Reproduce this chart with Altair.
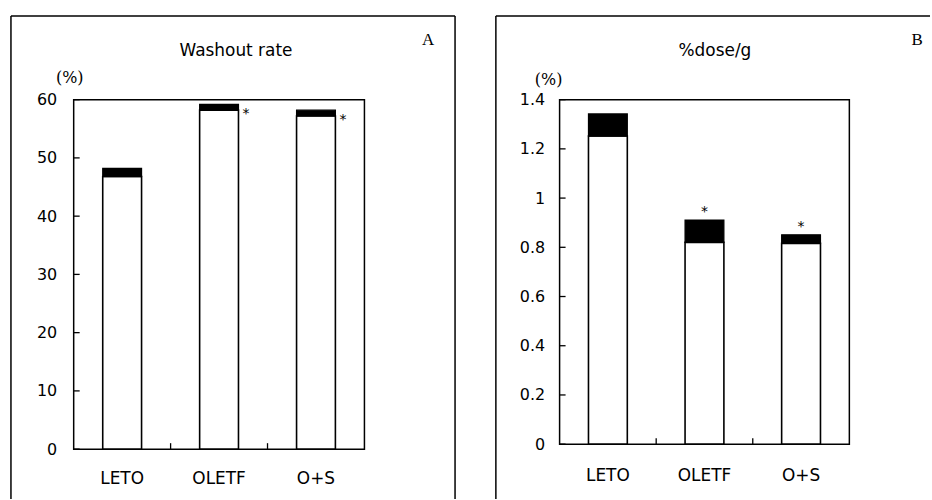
import altair as alt
import pandas as pd

# Groups and measurements
groups = ["LETO", "OLETF", "O+S"]

washout_mean = [46.8, 58.2, 57.2]
washout_err = [1.4, 1.0, 1.0]
washout_sig = ["", "*", "*"]
washout_ticks = [0, 10, 20, 30, 40, 50, 60]

dose_mean = [1.252, 0.82, 0.816]
dose_err = [0.09, 0.091, 0.035]
dose_sig = ["", "*", "*"]
dose_ticks = [0, 0.2, 0.4, 0.6, 0.8, 1.0, 1.2, 1.4]

FONT = "DejaVu Sans"


def panel(mean, err, sig, ticks, ymax, fmt, title, letter, w, h,
          ylab_pad, xlab_pad, frame, title_x, letter_x, unit_x, unit_y,
          star_dx, star_dy):
    df = pd.DataFrame({
        "group": groups,
        "mean": mean,
        "top": [m + e for m, e in zip(mean, err)],
        "sig": sig,
    })
    xaxis = alt.Axis(title=None, labelAngle=0, ticks=False, tickSize=0,
                     domain=False, grid=False, labelPadding=xlab_pad,
                     labelFont=FONT, labelFontSize=17, labelColor="black")
    yaxis = alt.Axis(title=None, values=ticks, ticks=False, tickSize=0,
                     domain=False, grid=False, labelPadding=ylab_pad,
                     labelFont=FONT, labelFontSize=16, labelColor="black",
                     format=fmt)
    xs = alt.Scale(paddingInner=0, paddingOuter=0)
    ys = alt.Scale(domain=[0, ymax], nice=False, zero=True)

    def X(**kw):
        return alt.X("group:N", sort=groups, scale=xs, axis=xaxis, **kw)

    def Y(field):
        return alt.Y(field, scale=ys, axis=yaxis)

    base = alt.Chart(df)
    bars = base.mark_bar(size=39, fill="white", stroke="black",
                         strokeWidth=1.6).encode(x=X(), y=Y("mean:Q"))
    caps = base.mark_bar(size=39, fill="black", stroke="black",
                         strokeWidth=1.2).encode(x=X(), y=Y("mean:Q"),
                                                 y2="top:Q")
    stars = base.mark_text(font=FONT, fontSize=14, dx=star_dx, dy=star_dy,
                           baseline="middle", color="black").encode(
        x=X(), y=Y("top:Q"), text="sig:N")

    ytick = alt.Chart(pd.DataFrame({"v": ticks})).mark_rule(
        color="black", strokeWidth=1.3).encode(
        y=Y("v:Q"), x=alt.value(0), x2=alt.value(6))
    xtick = alt.Chart(pd.DataFrame({"group": groups[1:]})).mark_rule(
        color="black", strokeWidth=1.3).encode(
        x=X(bandPosition=0), y=alt.value(h), y2=alt.value(h - 6))

    one = pd.DataFrame({"title": [title], "letter": [letter], "unit": ["(%)"]})
    c1 = alt.Chart(one)
    ttl = c1.mark_text(font=FONT, fontSize=17, color="black",
                       baseline="middle").encode(
        x=alt.value(title_x), y=alt.value(-49), text="title:N")
    let = c1.mark_text(font="Liberation Serif", fontSize=17, color="black",
                       baseline="middle").encode(
        x=alt.value(letter_x), y=alt.value(-60), text="letter:N")
    unit = c1.mark_text(font="DejaVu Serif", fontSize=16, color="black",
                        baseline="middle").encode(
        x=alt.value(unit_x), y=alt.value(unit_y), text="unit:N")

    fl, fr, ft, fb = frame
    top_line = c1.mark_rule(color="black", strokeWidth=1.5).encode(
        x=alt.value(fl), x2=alt.value(fr), y=alt.value(ft))
    left_line = c1.mark_rule(color="black", strokeWidth=1.5).encode(
        x=alt.value(fl), y=alt.value(ft), y2=alt.value(fb))
    layers = [top_line, left_line]
    if letter == "A":
        right_line = c1.mark_rule(color="black", strokeWidth=1.5).encode(
            x=alt.value(fr), y=alt.value(ft), y2=alt.value(fb))
        layers.append(right_line)

    return alt.layer(bars, caps, stars, ytick, xtick, ttl, let, unit,
                     *layers).properties(width=w, height=h)


panel_a = panel(washout_mean, washout_err, washout_sig, washout_ticks, 60,
                "d", "Washout rate", "A", 292, 351, 17, 21,
                (-63, 383, -84, 401), 163, 356, -4, -22, 27, 10)
panel_b = panel(dose_mean, dose_err, dose_sig, dose_ticks, 1.4,
                "~g", "%dose/g", "B", 291, 346, 15, 23,
                (-64, 372, -84, 401), 156, 359, -11, -20, 0, -8)

chart = alt.hconcat(panel_a, panel_b, spacing=37).properties(
    padding={"left": 9, "top": 13, "right": 0, "bottom": 0},
    background="white",
).configure_view(stroke="black", strokeWidth=1.5)

chart.save("out.html", embed_options={"renderer": "svg", "actions": False})
